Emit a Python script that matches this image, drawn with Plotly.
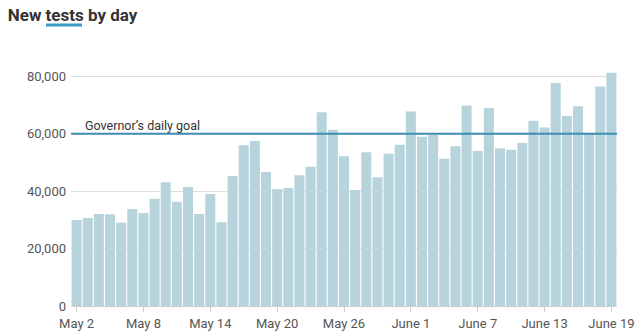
import plotly.graph_objects as go
import pandas as pd

dates = pd.date_range("2020-05-02", "2020-06-19", freq="D")
tests = [30000, 30700, 32100, 32000, 29100, 33800, 32400, 37400, 43100, 36300,
         41500, 32100, 39000, 29200, 45300, 56000, 57500, 46700, 40800, 41100,
         45600, 48500, 67500, 61400, 52200, 40400, 53600, 44900, 53100, 56200,
         67800, 59000, 59600, 51300, 55700, 69900, 54000, 69000, 55000, 54500,
         56800, 64600, 62200, 77700, 66200, 69600, 60300, 76500, 81300]
goal = 60000
tick_dates = pd.date_range("2020-05-02", "2020-06-19", freq="6D")
tick_labels = ["May 2", "May 8", "May 14", "May 20", "May 26", "June 1", "June 7", "June 13", "June 19"]
y_ticks = [0, 20000, 40000, 60000, 80000]
y_labels = ["0", "20,000", "40,000", "60,000", "80,000"]

FONT = "Roboto, Arial, sans-serif"

fig = go.Figure()
fig.add_trace(go.Bar(x=dates, y=tests, marker=dict(color="#b7d4dd", line=dict(width=0)),
                     hoverinfo="x+y"))
fig.add_hline(y=goal, line=dict(color="#3d8db3", width=2), layer="above")
fig.add_annotation(x=dates[1], y=goal, xref="x", yref="y", text="Governor\u2019s daily goal",
                   showarrow=False, xanchor="left", yanchor="bottom", xshift=-5, yshift=-1,
                   font=dict(family=FONT, size=12.5, color="#333"))

fig.update_layout(
    width=642, height=332,
    margin=dict(l=71, r=25, t=65, b=26),
    paper_bgcolor="white", plot_bgcolor="white",
    bargap=0.1, showlegend=False,
    font=dict(family=FONT, size=13, color="#555"),
    title=dict(text="<b>New tests by day</b>", x=0.012, xanchor="left", y=0.955, yanchor="middle",
               font=dict(family=FONT, size=17, color="#333")),
)
fig.add_shape(type="line", xref="paper", yref="paper",
              x0=(46 - 71) / 546, x1=(82 - 71) / 546, y0=(306 - 25) / 241, y1=(306 - 25) / 241,
              line=dict(color="#3a9cc4", width=3))
fig.update_xaxes(tickvals=tick_dates, ticktext=tick_labels, ticks="outside", ticklen=5,
                 tickcolor="#ccc", showgrid=False, showline=False, zeroline=False, automargin=False,
                 range=[dates[0] - pd.Timedelta(hours=12), dates[-1] + pd.Timedelta(hours=12)],
                 tickfont=dict(family=FONT, size=13, color="#555"))
fig.update_yaxes(range=[0, 84000], tickvals=y_ticks, ticktext=y_labels, showgrid=True,
                 gridcolor="#dedede", gridwidth=1, zeroline=True, zerolinecolor="#ccc",
                 zerolinewidth=1, ticks="", ticklabelstandoff=4, automargin=False,
                 tickfont=dict(family=FONT, size=13, color="#555"))
fig.write_html("out.html")
